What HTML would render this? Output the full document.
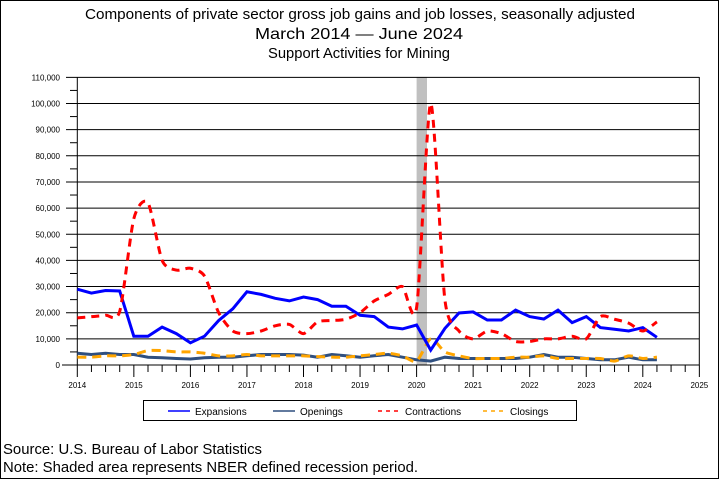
<!DOCTYPE html>
<html><head><meta charset="utf-8"><style>
body{margin:0;background:#fff}
svg{display:block;font-family:"Liberation Sans",sans-serif}
</style></head><body>
<svg id="s" width="720" height="480" xmlns="http://www.w3.org/2000/svg">
<rect x="0.5" y="0.5" width="718" height="478" fill="#fff" stroke="#000"/>
<text x="360" y="19" font-size="15.2" text-anchor="middle" textLength="550" lengthAdjust="spacingAndGlyphs">Components of private sector gross job gains and job losses, seasonally adjusted</text>
<text x="359" y="39" font-size="16" text-anchor="middle" textLength="208" lengthAdjust="spacingAndGlyphs">March 2014 — June 2024</text>
<text x="359" y="58" font-size="14.5" text-anchor="middle" textLength="182" lengthAdjust="spacingAndGlyphs">Support Activities for Mining</text>
<rect x="416.6" y="77" width="10.4" height="288" fill="#c0c0c0"/>
<g id="grid"></g>
<g id="series"></g>
<rect x="143.5" y="400.5" width="433" height="20" fill="none" stroke="#000"/>
<line x1="168" y1="411" x2="190" y2="411" stroke="#0000ff" stroke-width="1.5"/>
<text x="195" y="415" font-size="10">Expansions</text>
<line x1="273" y1="411" x2="295" y2="411" stroke="#2f4f7f" stroke-width="1.5"/>
<text x="300" y="415" font-size="10">Openings</text>
<line x1="378" y1="411" x2="400" y2="411" stroke="#ff0000" stroke-width="1.5" stroke-dasharray="4,4"/>
<text x="405" y="415" font-size="10">Contractions</text>
<line x1="483" y1="411" x2="505" y2="411" stroke="#ffa500" stroke-width="1.5" stroke-dasharray="4,4"/>
<text x="510" y="415" font-size="10">Closings</text>
<text x="3" y="454" font-size="14.8" textLength="259" lengthAdjust="spacingAndGlyphs">Source: U.S. Bureau of Labor Statistics</text>
<text x="3" y="472" font-size="14.8" textLength="415" lengthAdjust="spacingAndGlyphs">Note: Shaded area represents NBER defined recession period.</text>
</svg>
<script>
var X0=77.3,YR=56.55,Y0=365,K=2.615;
function px(i){return X0+i*YR/4} function py(v){return Y0-v*K}
var g='';
for(var v=0;v<=110;v+=10){var y=py(v);g+='<line x1="'+(v==0?62:66)+'" y1="'+y+'" x2="699.3" y2="'+y+'" stroke="#000"/>';
g+='<text x="60" y="'+(y+3)+'" font-size="8" text-anchor="end">'+(v==0?'0':v+',000')+'</text>';
if(v<110){g+='<line x1="70" y1="'+py(v+5)+'" x2="77" y2="'+py(v+5)+'" stroke="#000"/>';}}
g+='<line x1="77.3" y1="77" x2="77.3" y2="365" stroke="#000"/><line x1="699.3" y1="77" x2="699.3" y2="365" stroke="#000"/>';
for(var i=0;i<=44;i++){var x=px(i);g+='<line x1="'+x+'" y1="365" x2="'+x+'" y2="'+(i%4==0?377:372)+'" stroke="#000"/>';
if(i%4==0)g+='<text x="'+x+'" y="388" font-size="8" text-anchor="middle">'+(2014+i/4)+'</text>';}
document.getElementById('grid').innerHTML=g;
var E=[29,27.5,28.5,28.3,11,11,14.5,12,8.5,11,17,21.5,28,27,25.5,24.5,26,25,22.5,22.5,19,18.5,14.5,13.8,15.3,5.7,14,19.9,20.3,17.2,17.2,21,18.5,17.6,21,16.2,18.5,14.3,13.7,13,14.3,10.6];
var O=[4.5,4,4.5,4,4,3,2.8,2.5,2.3,2.8,3,3,3.5,4,4,4,3.8,3,4,3.5,3,3.5,4,3,2,1.5,3,2.5,2.5,2.5,2.5,2.5,3,4,3,3,2.5,2,2,3,2,2];
var C=[18,18.5,19,20.5,56,62,40,36.3,37,34,20,13,12,13,15,15.5,12,16.5,17,17.5,20,24.5,27,30,22,100,25,13,10,13,12,9,9,10,10,11,10,18.5,17.5,16,13,16.5];
var L=[3,3,3.5,3.5,4,5.5,5.5,5,5,4.5,3.5,3.5,4,3.5,3.5,3.5,3.5,3.2,3,3,3.5,4,4.5,3.5,1.5,10,5,3.5,2.5,2.5,2.5,3,3,3.5,2.5,2.5,2.5,2.5,1.5,3.5,2.5,3];
function lin(a){return 'M'+a.map(function(v,i){return px(i).toFixed(1)+','+py(v).toFixed(1)}).join('L')}
function smooth(a){var p=a.map(function(v,i){return [px(i),py(v)]});var d='M'+p[0][0]+','+p[0][1];
for(var i=0;i<p.length-1;i++){var p0=p[Math.max(0,i-1)],p1=p[i],p2=p[i+1],p3=p[Math.min(p.length-1,i+2)];
var t=8;d+='C'+(p1[0]+(p2[0]-p0[0])/t)+','+(p1[1]+(p2[1]-p0[1])/t)+' '+(p2[0]-(p3[0]-p1[0])/t)+','+(p2[1]-(p3[1]-p1[1])/t)+' '+p2[0]+','+p2[1];}return d;}
var s='<path d="'+lin(O)+'" fill="none" stroke="#2f4f7f" stroke-width="3"/>';
s+='<path d="'+smooth(L)+'" fill="none" stroke="#ffa500" stroke-width="3" stroke-dasharray="9,6"/>';
s+='<path d="'+lin(E)+'" fill="none" stroke="#0000ff" stroke-width="3"/>';
s+='<path d="'+smooth(C)+'" fill="none" stroke="#ff0000" stroke-width="3" stroke-dasharray="8,6"/>';
document.getElementById('series').innerHTML=s;
</script>
</body></html>
